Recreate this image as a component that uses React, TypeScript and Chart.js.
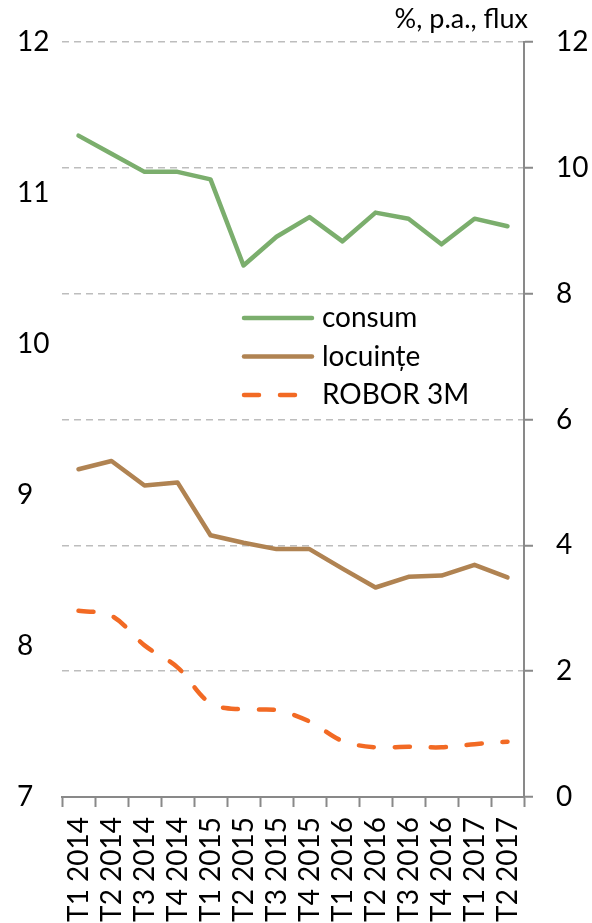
import { useEffect, useRef } from 'react';
import { Chart, registerables } from 'chart.js';

Chart.register(...registerables);

const categories = [
  'T1 2014', 'T2 2014', 'T3 2014', 'T4 2014',
  'T1 2015', 'T2 2015', 'T3 2015', 'T4 2015',
  'T1 2016', 'T2 2016', 'T3 2016', 'T4 2016',
  'T1 2017', 'T2 2017',
];
const consum = [11.38, 11.26, 11.14, 11.14, 11.09, 10.52, 10.71, 10.84, 10.68, 10.87, 10.83, 10.66, 10.83, 10.78];
const locuinte = [5.21, 5.34, 4.95, 5.0, 4.16, 4.04, 3.94, 3.94, 3.63, 3.33, 3.5, 3.52, 3.69, 3.49];
const robor3m = [2.96, 2.88, 2.41, 2.06, 1.49, 1.39, 1.38, 1.2, 0.89, 0.79, 0.8, 0.79, 0.84, 0.88];
const seriesLabels = ['consum', 'locuințe', 'ROBOR 3M'];
const unitLabel = '%, p.a., flux';
const leftMin = 7;
const leftMax = 12;
const leftStep = 1;
const rightMin = 0;
const rightMax = 12;
const rightStep = 2;

const FONT = 'Lato, "Open Sans", sans-serif';
const AXIS_GREY = '#898989';

const insideLegend = {
  id: 'insideLegend',
  afterDraw(chart: any) {
    const ctx = chart.ctx;
    const area = chart.chartArea;
    ctx.save();
    const x0 = area.left + 182;
    const x1 = area.left + 250;
    const tx = area.left + 260;
    chart.data.datasets.forEach((ds: any, i: number) => {
      const y = area.top + 276 + i * 38.5;
      ctx.beginPath();
      ctx.strokeStyle = ds.borderColor;
      ctx.lineWidth = ds.borderWidth;
      ctx.lineCap = 'round';
      ctx.setLineDash(ds.borderDash || []);
      ctx.moveTo(x0, y);
      ctx.lineTo(x1, y);
      ctx.stroke();
      ctx.setLineDash([]);
      ctx.fillStyle = '#000';
      ctx.font = `28px ${FONT}`;
      ctx.textAlign = 'left';
      ctx.textBaseline = 'middle';
      ctx.fillText(ds.label, tx, y);
    });
    ctx.font = `27px ${FONT}`;
    ctx.textAlign = 'right';
    ctx.textBaseline = 'alphabetic';
    ctx.fillStyle = '#000';
    ctx.fillText(unitLabel, area.right + 4, area.top - 14);
    ctx.restore();
  },
};

export default function App() {
  const ref = useRef<HTMLCanvasElement | null>(null);

  useEffect(() => {
    if (!ref.current) return;
    const chart = new Chart(ref.current, {
      type: 'line',
      data: {
        labels: categories,
        datasets: [
          {
            label: seriesLabels[0],
            data: consum,
            yAxisID: 'y',
            borderColor: '#7BAE6D',
            backgroundColor: '#7BAE6D',
            borderWidth: 4.5,
            pointRadius: 0,
            tension: 0,
            borderCapStyle: 'round',
            borderJoinStyle: 'round',
          },
          {
            label: seriesLabels[1],
            data: locuinte,
            yAxisID: 'y1',
            borderColor: '#B08352',
            backgroundColor: '#B08352',
            borderWidth: 4.5,
            pointRadius: 0,
            tension: 0,
            borderCapStyle: 'round',
            borderJoinStyle: 'round',
          },
          {
            label: seriesLabels[2],
            data: robor3m,
            yAxisID: 'y1',
            borderColor: '#F26A24',
            backgroundColor: '#F26A24',
            borderWidth: 4.5,
            borderDash: [15, 21],
            borderCapStyle: 'round',
            pointRadius: 0,
            tension: 0.35,
          },
        ],
      },
      options: {
        responsive: false,
        animation: false,
        layout: { padding: { left: 17, right: 0, top: 42, bottom: 0 } },
        plugins: {
          legend: { display: false },
          tooltip: { enabled: false },
          title: { display: false },
        },
        scales: {
          x: {
            type: 'category',
            offset: true,
            afterFit: (s: any) => { s.height = 126; },
            grid: {
              offset: true,
              drawOnChartArea: false,
              drawTicks: true,
              tickLength: 10,
              tickColor: AXIS_GREY,
              tickWidth: 2,
              color: AXIS_GREY,
            },
            border: { display: true, color: AXIS_GREY, width: 2 },
            ticks: {
              autoSkip: false,
              maxRotation: 90,
              minRotation: 90,
              padding: 10,
              color: '#000',
              font: { family: FONT, size: 28 },
            },
          },
          y: {
            position: 'left',
            min: leftMin,
            max: leftMax,
            afterFit: (s: any) => { s.width = 45; s.paddingTop = 0; s.paddingBottom = 0; },
            grid: { display: false, drawTicks: false },
            border: { display: false },
            ticks: {
              stepSize: leftStep,
              crossAlign: 'far',
              padding: 0,
              color: '#000',
              font: { family: FONT, size: 28 },
            },
          },
          y1: {
            position: 'right',
            min: rightMin,
            max: rightMax,
            afterFit: (s: any) => { s.width = 68; s.paddingTop = 0; s.paddingBottom = 0; },
            grid: {
              drawOnChartArea: true,
              drawTicks: true,
              tickLength: 9,
              tickColor: AXIS_GREY,
              tickWidth: 2,
              tickBorderDash: [],
              lineWidth: 1.5,
              color: (c: any) => (c.tick && c.tick.value === rightMin ? 'rgba(0,0,0,0)' : '#BDBDBD'),
            },
            border: { display: true, color: AXIS_GREY, width: 2, dash: [7, 5] },
            ticks: {
              stepSize: rightStep,
              padding: 23,
              color: '#000',
              font: { family: FONT, size: 28 },
            },
          },
        },
      },
      plugins: [insideLegend],
    } as any);
    return () => chart.destroy();
  }, []);

  return (
    <div style={{ position: 'absolute', left: 0, top: 0, width: 592, height: 923 }}>
      <canvas ref={ref} width={592} height={923} />
    </div>
  );
}
